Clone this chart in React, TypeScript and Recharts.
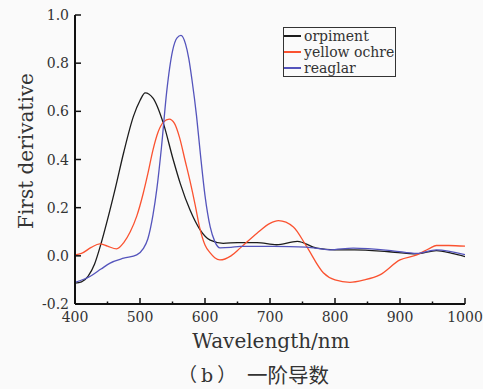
import React from 'react';
import { LineChart, Line, XAxis, YAxis, Legend, Label } from 'recharts';

const orpimentWl = [400, 410, 420, 430, 440, 450, 462, 475, 490, 500, 508, 520, 536, 551, 562, 577, 592, 608, 628, 650, 680, 710, 742, 772, 800, 830, 880, 926, 956, 980, 1000];
const orpimentVal = [-0.113, -0.108, -0.085, -0.035, 0.05, 0.15, 0.28, 0.43, 0.58, 0.645, 0.677, 0.655, 0.55, 0.40, 0.30, 0.19, 0.11, 0.065, 0.052, 0.055, 0.055, 0.046, 0.06, 0.032, 0.025, 0.025, 0.018, 0.008, 0.022, 0.01, -0.003];

const ochreWl = [400, 410, 425, 438, 450, 464, 475, 485, 495, 505, 512, 520, 528, 536, 545, 553, 561, 569, 577, 585, 592, 600, 608, 615, 623, 640, 654, 680, 700, 713, 736, 756, 782, 800, 823, 845, 869, 900, 926, 945, 956, 975, 1000];
const ochreVal = [0.004, 0.01, 0.035, 0.05, 0.04, 0.029, 0.055, 0.10, 0.165, 0.26, 0.34, 0.44, 0.515, 0.555, 0.568, 0.55, 0.49, 0.40, 0.31, 0.21, 0.115, 0.045, 0.012, -0.008, -0.017, 0.0, 0.032, 0.094, 0.135, 0.146, 0.12, 0.04, -0.07, -0.1, -0.11, -0.1, -0.079, -0.017, 0.004, 0.03, 0.043, 0.043, 0.04];

const reaglarWl = [400, 423, 440, 454, 475, 495, 505, 512, 520, 526, 533, 541, 550, 557, 563, 570, 575, 580, 587, 593, 600, 608, 615, 623, 640, 654, 705, 756, 792, 828, 889, 926, 956, 1000];
const reaglarVal = [-0.11, -0.086, -0.055, -0.03, -0.01, 0.004, 0.03, 0.07, 0.17, 0.28, 0.45, 0.68, 0.85, 0.905, 0.915, 0.88, 0.82, 0.73, 0.58, 0.42, 0.25, 0.12, 0.06, 0.033, 0.035, 0.039, 0.039, 0.036, 0.025, 0.032, 0.021, 0.01, 0.025, 0.005];

const xTicks = [400, 450, 500, 550, 600, 650, 700, 750, 800, 850, 900, 950, 1000];
const yTicks = [-0.2, 0, 0.2, 0.4, 0.6, 0.8, 1.0];

const seriesNames = ['orpiment', 'yellow ochre', 'reaglar'];
const seriesColors = ['#1c1c1c', '#fa5230', '#5454bc'];

const toPoints = (wl: number[], val: number[]) => wl.map((w, i) => ({ wl: w, v: val[i] }));
const seriesData = [
  toPoints(orpimentWl, orpimentVal),
  toPoints(ochreWl, ochreVal),
  toPoints(reaglarWl, reaglarVal),
];

const SERIF = '"DejaVu Serif", serif';
const CJK = '"DejaVu Serif", "Noto Sans CJK SC", serif';
const TEXT = '#333';

const XTick = (props: any) => {
  const { x, y, payload } = props;
  const major = payload.value % 100 === 0;
  return (
    <g>
      <line x1={x} y1={y} x2={x} y2={y - (major ? 6 : 2.5)} stroke="#111" strokeWidth={1.5} />
      {major && (
        <text x={x} y={y + 18} textAnchor="middle" fontFamily={SERIF} fontSize={14} fill={TEXT}>
          {payload.value}
        </text>
      )}
    </g>
  );
};

const YTick = (props: any) => {
  const { x, y, payload } = props;
  return (
    <g>
      <line x1={x} y1={y} x2={x + 6} y2={y} stroke="#111" strokeWidth={1.5} />
      <text x={x - 6} y={y + 5} textAnchor="end" fontFamily={SERIF} fontSize={14} fill={TEXT}>
        {payload.value.toFixed(1)}
      </text>
    </g>
  );
};

const LegendBox = () => (
  <div
    style={{
      width: 113,
      height: 50,
      boxSizing: 'border-box',
      border: '1.5px solid #333',
      fontFamily: SERIF,
      fontSize: 14,
      color: TEXT,
      paddingTop: 0,
    }}
  >
    {seriesNames.map((n, i) => (
      <div key={n} style={{ display: 'flex', alignItems: 'center', height: 16, lineHeight: '16px' }}>
        <span style={{ display: 'inline-block', width: 17, height: 1.5, background: seriesColors[i] }} />
        <span style={{ marginLeft: 3 }}>{n}</span>
      </div>
    ))}
  </div>
);

export default function App() {
  return (
    <div style={{ position: 'absolute', left: 0, top: 0, width: 483, height: 389, background: '#fafafa' }}>
      <LineChart width={483} height={389} margin={{ top: 15, right: 18, bottom: 55, left: 15 }}>
        <XAxis
          type="number"
          dataKey="wl"
          domain={[400, 1000]}
          ticks={xTicks}
          interval={0}
          allowDataOverflow
          height={30}
          tickSize={0}
          tickMargin={0}
          tickLine={false}
          axisLine={{ stroke: '#111', strokeWidth: 2 }}
          tick={<XTick />}
        >
          <Label
            content={() => (
              <g>
                <text x={271} y={348} textAnchor="middle" fontFamily={SERIF} fontSize={20} fill={TEXT}>
                  Wavelength/nm
                </text>
                <text x={178} y={382} textAnchor="start" fontFamily={CJK} fontSize={19} letterSpacing={4} fill={TEXT}>
                  （b）
                </text>
                <text x={247} y={383} textAnchor="start" fontFamily={CJK} fontSize={20.5} fill={TEXT}>
                  一阶导数
                </text>
              </g>
            )}
          />
        </XAxis>
        <YAxis
          type="number"
          domain={[-0.2, 1.0]}
          ticks={yTicks}
          interval={0}
          width={60}
          tickSize={0}
          tickMargin={0}
          tickLine={false}
          axisLine={{ stroke: '#111', strokeWidth: 2 }}
          tick={<YTick />}
        >
          <Label
            content={() => (
              <text
                x={33}
                y={151}
                transform="rotate(-90, 33, 151)"
                textAnchor="middle"
                fontFamily={SERIF}
                fontSize={20}
                fill={TEXT}
              >
                First derivative
              </text>
            )}
          />
        </YAxis>
        <Legend
          layout="vertical"
          align="center"
          verticalAlign="middle"
          wrapperStyle={{ left: 283, top: 27, width: 113, height: 50 }}
          content={() => <LegendBox />}
        />
        {seriesData.map((d, i) => (
          <Line
            key={seriesNames[i]}
            data={d}
            dataKey="v"
            name={seriesNames[i]}
            type="monotone"
            stroke={seriesColors[i]}
            strokeWidth={1.3}
            dot={false}
            activeDot={false}
            isAnimationActive={false}
          />
        ))}
      </LineChart>
    </div>
  );
}
